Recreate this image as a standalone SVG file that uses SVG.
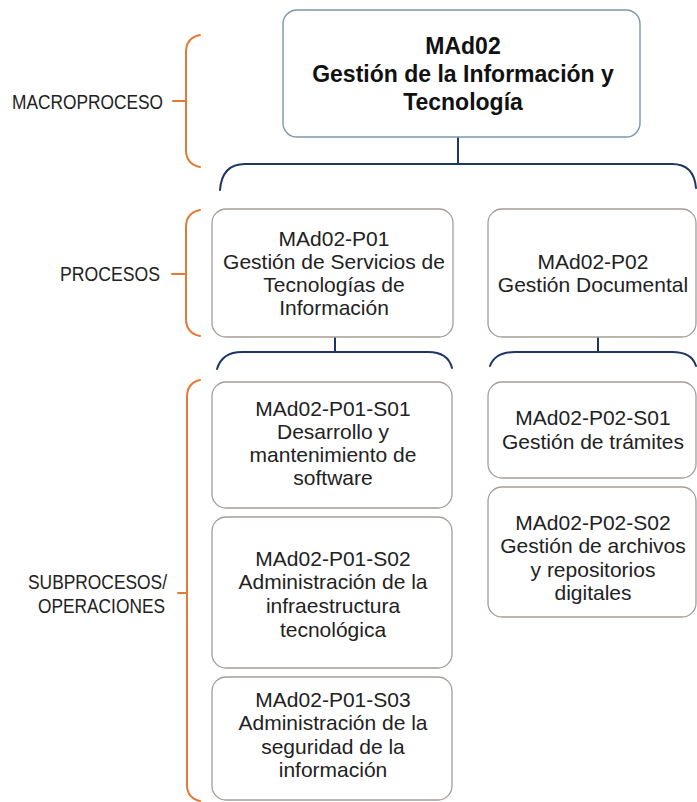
<svg xmlns="http://www.w3.org/2000/svg" width="697" height="802" viewBox="0 0 697 802">
<style>
  .box { fill: #ffffff; stroke: #a59d98; stroke-width: 1.3; }
  .topbox { fill: #ffffff; stroke: #7d97a8; stroke-width: 1.4; }
  .t { font-family: "Liberation Sans", Arial, sans-serif; font-size: 21px; fill: #222222; text-anchor: middle; }
  .tb { font-family: "Liberation Sans", Arial, sans-serif; font-size: 23px; font-weight: bold; fill: #111111; text-anchor: middle; }
  .lbl { font-family: "Liberation Sans", Arial, sans-serif; font-size: 19.5px; fill: #222222; }
  .ob { fill: none; stroke: #e27a35; stroke-width: 2; stroke-linecap: round; }
  .bb { fill: none; stroke: #1f3566; stroke-width: 2; stroke-linecap: round; }
</style>

<g id="levels">
  <text class="lbl" x="12" y="109" textLength="151" lengthAdjust="spacingAndGlyphs">MACROPROCESO</text>
  <path class="ob" d="M200,35 Q186,38 186,52 L186,150 Q186,164 200,167 M186,101 L173,101"/>
  <text class="lbl" x="60" y="281" textLength="100" lengthAdjust="spacingAndGlyphs">PROCESOS</text>
  <path class="ob" d="M200,210 Q186,213 186,227 L186,319 Q186,333 200,336 M186,274 L172,274"/>
  <text class="lbl" x="28" y="589" textLength="139" lengthAdjust="spacingAndGlyphs">SUBPROCESOS/</text>
  <text class="lbl" x="38" y="613" textLength="127" lengthAdjust="spacingAndGlyphs">OPERACIONES</text>
  <path class="ob" d="M200,380 Q187,383 187,397 L187,785 Q187,798 200,801 M187,593 L178,593"/>
</g>

<g id="connectors">
  <path class="bb" d="M458,137 L458,164"/>
  <path class="bb" d="M220,190 Q222,164 245,164 L672,164 Q694,164 696,188"/>
  <path class="bb" d="M335,337 L335,352"/>
  <path class="bb" d="M217,369 Q222,352 242,352 L428,352 Q448,352 452,368"/>
  <path class="bb" d="M598,337 L598,352"/>
  <path class="bb" d="M490,366 Q495,352 515,352 L672,352 Q692,352 696,366"/>
</g>

<g id="MAd02">
  <rect class="topbox" x="283" y="10" width="357" height="127" rx="14"/>
  <text class="tb" x="463" y="54">MAd02</text>
  <text class="tb" x="463" y="82">Gestión de la Información y</text>
  <text class="tb" x="463" y="110">Tecnología</text>
</g>

<g id="MAd02-P01">
  <rect class="box" x="212" y="209" width="241" height="128" rx="14"/>
  <text class="t" x="334" y="246">MAd02-P01</text>
  <text class="t" x="334" y="269">Gestión de Servicios de</text>
  <text class="t" x="334" y="292">Tecnologías de</text>
  <text class="t" x="334" y="315">Información</text>
</g>

<g id="MAd02-P02">
  <rect class="box" x="488" y="209" width="208" height="128" rx="14"/>
  <text class="t" x="593" y="269">MAd02-P02</text>
  <text class="t" x="593" y="292">Gestión Documental</text>
</g>

<g id="MAd02-P01-S01">
  <rect class="box" x="212" y="382" width="240" height="126" rx="14"/>
  <text class="t" x="333" y="416">MAd02-P01-S01</text>
  <text class="t" x="333" y="439">Desarrollo y</text>
  <text class="t" x="333" y="462">mantenimiento de</text>
  <text class="t" x="333" y="485">software</text>
</g>

<g id="MAd02-P01-S02">
  <rect class="box" x="212" y="517" width="240" height="151" rx="14"/>
  <text class="t" x="333" y="566">MAd02-P01-S02</text>
  <text class="t" x="333" y="589">Administración de la</text>
  <text class="t" x="333" y="613">infraestructura</text>
  <text class="t" x="333" y="637">tecnológica</text>
</g>

<g id="MAd02-P01-S03">
  <rect class="box" x="212" y="677" width="240" height="123" rx="14"/>
  <text class="t" x="333" y="707">MAd02-P01-S03</text>
  <text class="t" x="333" y="730">Administración de la</text>
  <text class="t" x="333" y="754">seguridad de la</text>
  <text class="t" x="333" y="777">información</text>
</g>

<g id="MAd02-P02-S01">
  <rect class="box" x="488" y="382" width="208" height="96" rx="14"/>
  <text class="t" x="593" y="425">MAd02-P02-S01</text>
  <text class="t" x="593" y="449">Gestión de trámites</text>
</g>

<g id="MAd02-P02-S02">
  <rect class="box" x="488" y="487" width="208" height="130" rx="14"/>
  <text class="t" x="593" y="530">MAd02-P02-S02</text>
  <text class="t" x="593" y="553">Gestión de archivos</text>
  <text class="t" x="593" y="577">y repositorios</text>
  <text class="t" x="593" y="600">digitales</text>
</g>
</svg>
